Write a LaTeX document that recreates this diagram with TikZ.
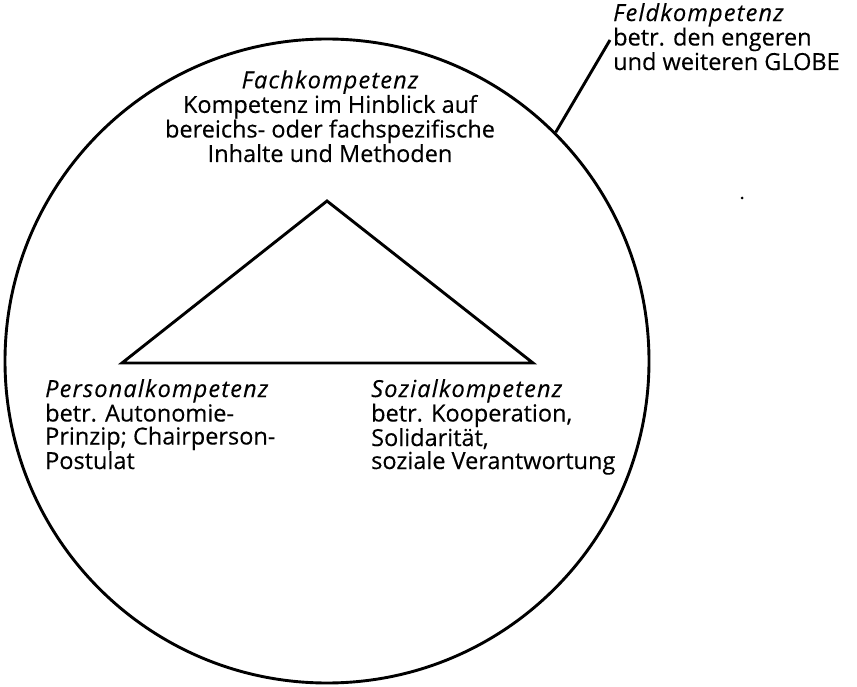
\documentclass[tikz,border=0pt]{standalone}
\usepackage{fontspec}
\setmainfont{Open Sans}[UprightFeatures={FakeBold=0.3},ItalicFeatures={FakeBold=0.3}]
\newcommand{\hd}[1]{{\itshape\addfontfeature{LetterSpace=5}#1}}
\begin{document}
\begin{tikzpicture}[x=1pt,y=-1pt,
  lbl/.style={inner sep=0pt, font=\fontsize{23.5}{23}\selectfont},
  ln/.style={line width=2.9pt, line join=miter}]
\useasboundingbox (0,0) rectangle (857,687);
% globe
\node[draw, ln, circle, minimum size=644pt, inner sep=0pt] (globe) at (327,361) {};
% triangle
\coordinate (top) at (327,201);
\coordinate (bl) at (122,363);
\coordinate (br) at (533,363);
\draw[ln] (top) -- (br) -- (bl) -- cycle;
% leader
\coordinate (lead) at (610,40);
\draw[ln] (globe.45) -- (lead);
% texts (anchor=base is the baseline of the last line)
\node[lbl, align=center, anchor=base] (fach) at (330,162)
  {\hd{Fachkompetenz}\\Kompetenz im Hinblick auf\\bereichs- oder fachspezifische\\Inhalte und Methoden};
\node[lbl, align=left, anchor=base west] (pers) at (45,469)
  {\hd{Personalkompetenz}\\betr. Autonomie-\\Prinzip; Chairperson-\\Postulat};
\node[lbl, align=left, anchor=base west] (soz) at (371,469)
  {\hd{Sozialkompetenz}\\betr. Kooperation,\\Solidarität,\\soziale Verantwortung};
\node[lbl, align=left, anchor=base west] (feld) at (613,70)
  {\hd{Feldkompetenz}\\betr. den engeren\\und weiteren GLOBE};
\fill (742,198) circle (1.5pt);
\end{tikzpicture}
\end{document}
